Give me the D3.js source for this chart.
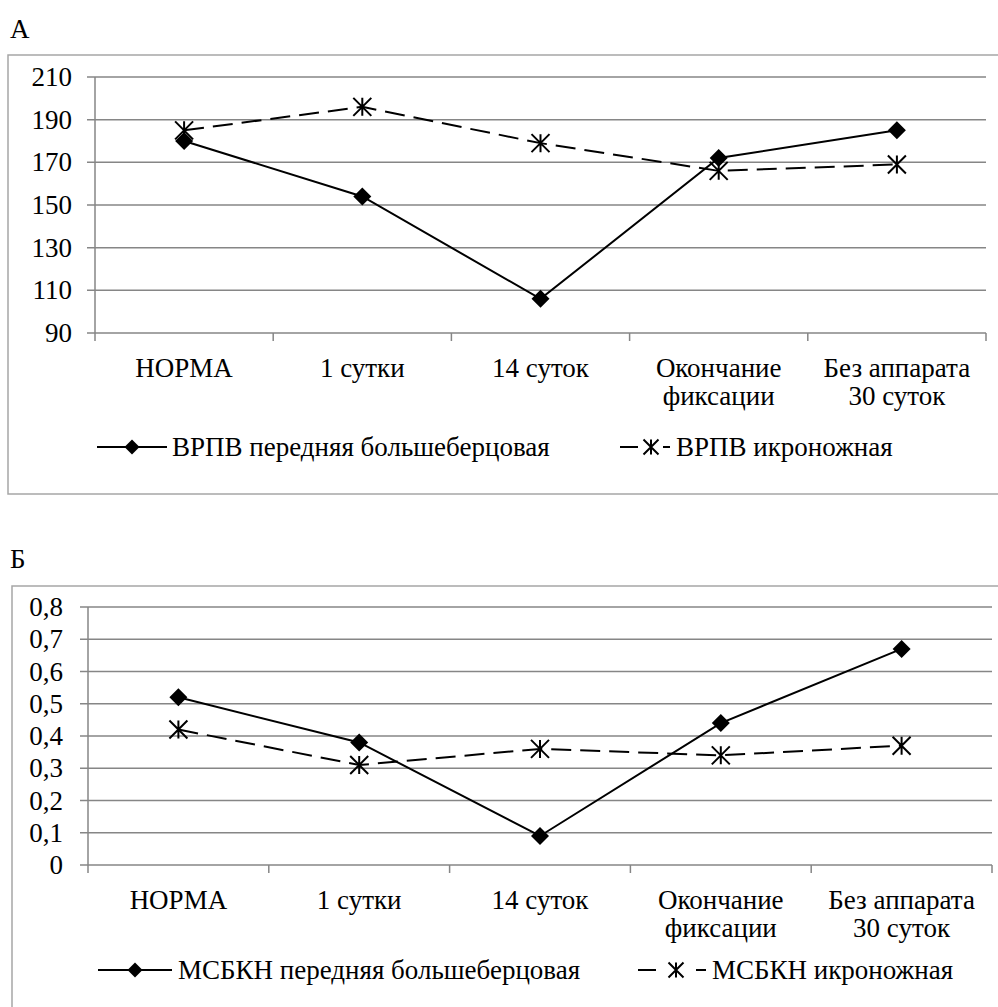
<!DOCTYPE html>
<html>
<head>
    <meta charset="utf-8">
    <title>ВРПВ и МСБКН</title>
    <script src="https://d3js.org/d3.v7.min.js"></script>
    <style>
        body { margin: 0; background: #ffffff; }
        svg text {
            font-family: "Liberation Serif", "Times New Roman", Times, "Noto Serif", "DejaVu Serif", serif;
            font-size: 27px;
            fill: #000000;
        }
        .grid { stroke: #868686; stroke-width: 1.5px; }
        .frame { fill: none; stroke: #a6a6a6; stroke-width: 1.5px; }
        .series { fill: none; stroke: #000000; stroke-width: 2px; }
    </style>
</head>
<body>
<div id="svg_container"></div>
<script>
    // categories (multi-line labels split by "|")
    const categories = ["НОРМА", "1 сутки", "14 суток", "Окончание|фиксации", "Без аппарата|30 суток"];

    // panel А values
    const vrpvTibial = [180, 154, 106, 172, 185];
    const vrpvCalf = [185, 196, 179, 166, 169];
    const ticksA = [90, 110, 130, 150, 170, 190, 210];

    // panel Б values
    const msbknTibial = [0.52, 0.38, 0.09, 0.44, 0.67];
    const msbknCalf = [0.42, 0.31, 0.36, 0.34, 0.37];
    const ticksB = [0, 0.1, 0.2, 0.3, 0.4, 0.5, 0.6, 0.7, 0.8];

    const width = 998;
    const height = 1007;

    const svg = d3.select("#svg_container")
        .append("svg")
        .attr("width", width)
        .attr("height", height);

    const diamondPath = r => `M0,${-r}L${r},0L0,${r}L${-r},0Z`;
    const starPath = r => `M0,${-r}L0,${r}M${-r},${-r}L${r},${r}M${-r},${r}L${r},${-r}`;

    function drawPanel(p) {
        const g = svg.append("g");

        g.append("text")
            .attr("x", p.letterX)
            .attr("y", p.letterY)
            .text(p.letter);

        g.append("rect")
            .attr("class", "frame")
            .attr("x", p.frame[0])
            .attr("y", p.frame[1])
            .attr("width", p.frame[2])
            .attr("height", p.frame[3]);

        const x = d3.scaleBand()
            .domain(categories)
            .range([p.left, p.right]);

        const y = d3.scaleLinear()
            .domain([p.ticks[0], p.ticks[p.ticks.length - 1]])
            .range([p.bottom, p.top]);

        // horizontal gridlines with outward ticks
        g.selectAll(".grid-h")
            .data(p.ticks)
            .enter()
            .append("line")
            .attr("class", "grid")
            .attr("x1", p.left - 8)
            .attr("x2", p.right)
            .attr("y1", d => y(d))
            .attr("y2", d => y(d));

        // y axis line
        g.append("line")
            .attr("class", "grid")
            .attr("x1", p.left).attr("x2", p.left)
            .attr("y1", p.top).attr("y2", p.bottom);

        g.selectAll(".ylab")
            .data(p.ticks)
            .enter()
            .append("text")
            .attr("text-anchor", "end")
            .attr("dominant-baseline", "central")
            .attr("x", p.labelRight)
            .attr("y", d => y(d))
            .text(p.format);

        // x ticks at band edges
        const edges = categories.map(c => x(c)).concat([x.range()[1]]);
        g.selectAll(".xtick")
            .data(edges)
            .enter()
            .append("line")
            .attr("class", "grid")
            .attr("x1", d => d).attr("x2", d => d)
            .attr("y1", p.bottom).attr("y2", p.bottom + 8);

        const xl = g.selectAll(".xlab")
            .data(categories)
            .enter()
            .append("text")
            .attr("text-anchor", "middle")
            .attr("dominant-baseline", "central")
            .attr("x", d => x(d) + x.bandwidth() / 2)
            .attr("y", p.xLabelY);
        xl.selectAll("tspan")
            .data(d => d.split("|"))
            .enter()
            .append("tspan")
            .attr("x", function () { return d3.select(this.parentNode).attr("x"); })
            .attr("dy", (d, i) => i === 0 ? 0 : 28)
            .text(d => d);

        const line = d3.line()
            .x((d, i) => x(categories[i]) + x.bandwidth() / 2)
            .y(d => y(d));

        // dashed series
        g.append("path")
            .datum(p.calf)
            .attr("class", "series")
            .attr("stroke-dasharray", "20,9")
            .attr("d", line);

        // solid series
        g.append("path")
            .datum(p.tibial)
            .attr("class", "series")
            .attr("d", line);

        g.selectAll(".star")
            .data(p.calf)
            .enter()
            .append("path")
            .attr("class", "series")
            .attr("stroke-width", 2.5)
            .attr("transform", (d, i) => `translate(${x(categories[i]) + x.bandwidth() / 2},${y(d)})`)
            .attr("d", starPath(9));

        g.selectAll(".diamond")
            .data(p.tibial)
            .enter()
            .append("path")
            .attr("fill", "#000")
            .attr("transform", (d, i) => `translate(${x(categories[i]) + x.bandwidth() / 2},${y(d)})`)
            .attr("d", diamondPath(9));

        // legend
        const ly = p.legendY;
        const L = p.legend;
        g.append("line")
            .attr("class", "series")
            .attr("x1", L.solid[0]).attr("x2", L.solid[1])
            .attr("y1", ly).attr("y2", ly);
        g.append("path")
            .attr("fill", "#000")
            .attr("transform", `translate(${(L.solid[0] + L.solid[1]) / 2},${ly})`)
            .attr("d", diamondPath(7.5));
        g.append("text")
            .attr("dominant-baseline", "central")
            .attr("x", L.solidText)
            .attr("y", ly)
            .text(p.names[0]);

        g.append("line")
            .attr("class", "series")
            .attr("stroke-width", 2.5)
            .attr("x1", L.dash[0]).attr("x2", L.dash[1])
            .attr("y1", ly).attr("y2", ly);
        g.append("line")
            .attr("class", "series")
            .attr("stroke-width", 2.5)
            .attr("x1", L.dash[3]).attr("x2", L.dash[4])
            .attr("y1", ly).attr("y2", ly);
        g.append("path")
            .attr("class", "series")
            .attr("stroke-width", 3)
            .attr("transform", `translate(${L.dash[2]},${ly})`)
            .attr("d", starPath(7.5));
        g.append("text")
            .attr("dominant-baseline", "central")
            .attr("x", L.dashText)
            .attr("y", ly)
            .text(p.names[1]);
    }

    const commaFmt = d => d === 0 ? "0" : d3.format(".1f")(d).replace(".", ",");

    drawPanel({
        letter: "А", letterX: 10, letterY: 38,
        frame: [8, 55, 1000, 439],
        left: 95, right: 986, top: 77, bottom: 333,
        labelRight: 72,
        ticks: ticksA, format: d => d,
        tibial: vrpvTibial, calf: vrpvCalf,
        xLabelY: 368,
        legendY: 447,
        legend: { solid: [97, 167], solidText: 172, dash: [620, 638, 651, 663, 670], dashText: 676 },
        names: ["ВРПВ передняя большеберцовая", "ВРПВ икроножная"]
    });

    drawPanel({
        letter: "Б", letterX: 10, letterY: 568,
        frame: [12, 586, 1000, 440],
        left: 88, right: 992, top: 607, bottom: 865,
        labelRight: 63,
        ticks: ticksB, format: commaFmt,
        tibial: msbknTibial, calf: msbknCalf,
        xLabelY: 900,
        legendY: 970,
        legend: { solid: [98, 172], solidText: 178, dash: [638, 656, 676, 696, 706], dashText: 712 },
        names: ["МСБКН передняя большеберцовая", "МСБКН икроножная"]
    });
</script>
</body>
</html>
